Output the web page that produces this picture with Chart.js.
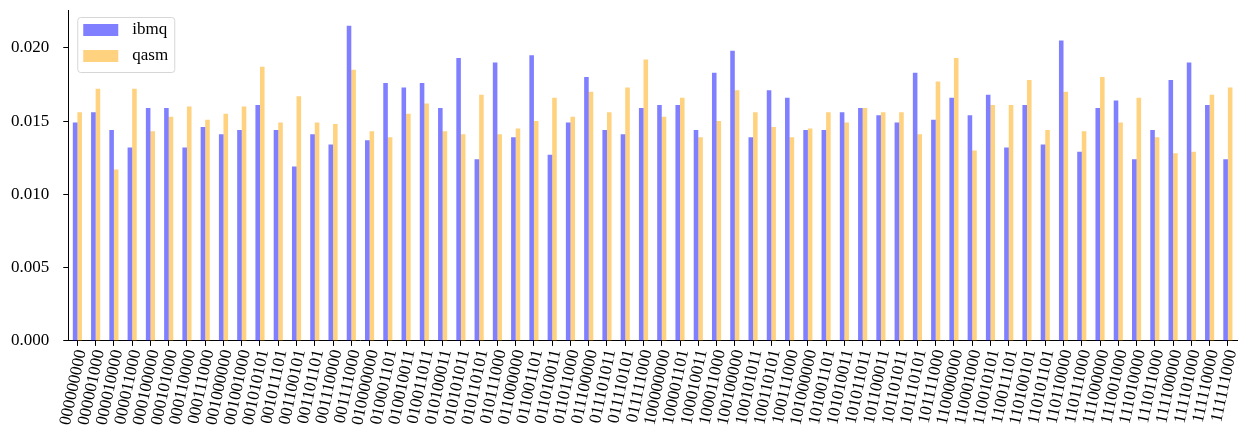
<!DOCTYPE html>
<html>
<head>
<meta charset="utf-8">
<script src="https://cdn.jsdelivr.net/npm/chart.js@4"></script>
<style>
  html, body { margin: 0; padding: 0; background: #fff; }
  #wrap { width: 1245px; height: 432px; }
</style>
</head>
<body>
<div id="wrap"><canvas id="count_chart" width="1245" height="432"></canvas></div>
<script>
// measured states (x axis)
const states = [
  "000000000", "000001000", "000010000", "000011000", "000100000", "000101000", "000110000", "000111000",
  "001000000", "001001000", "001010101", "001011101", "001100101", "001101101", "001110000", "001111000",
  "010000000", "010001101", "010010011", "010011011", "010100011", "010101011", "010110101", "010111000",
  "011000000", "011001101", "011010011", "011011000", "011100000", "011101011", "011110101", "011111000",
  "100000000", "100001101", "100010011", "100011000", "100100000", "100101011", "100110101", "100111000",
  "101000000", "101001101", "101010011", "101011011", "101100011", "101101011", "101110101", "101111000",
  "110000000", "110001000", "110010101", "110011101", "110100101", "110101101", "110110000", "110111000",
  "111000000", "111001000", "111010000", "111011000", "111100000", "111101000", "111110000", "111111000",
];

const ibmq = [
  0.0149, 0.0156, 0.0144, 0.0132, 0.0159, 0.0159, 0.0132, 0.0146,
  0.0141, 0.0144, 0.0161, 0.0144, 0.0119, 0.0141, 0.0134, 0.0215,
  0.0137, 0.0176, 0.0173, 0.0176, 0.0159, 0.0193, 0.0124, 0.0190,
  0.0139, 0.0195, 0.0127, 0.0149, 0.0180, 0.0144, 0.0141, 0.0159,
  0.0161, 0.0161, 0.0144, 0.0183, 0.0198, 0.0139, 0.0171, 0.0166,
  0.0144, 0.0144, 0.0156, 0.0159, 0.0154, 0.0149, 0.0183, 0.0151,
  0.0166, 0.0154, 0.0168, 0.0132, 0.0161, 0.0134, 0.0205, 0.0129,
  0.0159, 0.0164, 0.0124, 0.0144, 0.0178, 0.0190, 0.0161, 0.0124,
];

const qasm = [
  0.0156, 0.0172, 0.0117, 0.0172, 0.0143, 0.0153, 0.0160, 0.0151,
  0.0155, 0.0160, 0.0187, 0.0149, 0.0167, 0.0149, 0.0148, 0.0185,
  0.0143, 0.0139, 0.0155, 0.0162, 0.0143, 0.0141, 0.0168, 0.0141,
  0.0145, 0.0150, 0.0166, 0.0153, 0.0170, 0.0156, 0.0173, 0.0192,
  0.0153, 0.0166, 0.0139, 0.0150, 0.0171, 0.0156, 0.0146, 0.0139,
  0.0145, 0.0156, 0.0149, 0.0159, 0.0156, 0.0156, 0.0141, 0.0177,
  0.0193, 0.0130, 0.0161, 0.0161, 0.0178, 0.0144, 0.0170, 0.0143,
  0.0180, 0.0149, 0.0166, 0.0139, 0.0128, 0.0129, 0.0168, 0.0173,
];

const yTicks = [0, 0.005, 0.01, 0.015, 0.02];
const yTickLabels = ["0.000", "0.005", "0.010", "0.015", "0.020"];
const yMax = 0.02258;

const serif = "'Liberation Serif', 'Times New Roman', serif";

// legend in the upper left, drawn with a frame like matplotlib
const legendBox = {
  id: "legendBox",
  afterDraw(chart) {
    const { ctx, chartArea } = chart;
    const x = chartArea.left + 9;
    const y = chartArea.top + 7;
    ctx.save();
    ctx.beginPath();
    ctx.roundRect(x + 0.5, y + 0.5, 97, 55, 3);
    ctx.fillStyle = "rgba(255,255,255,0.8)";
    ctx.fill();
    ctx.strokeStyle = "#d6d6d6";
    ctx.lineWidth = 1;
    ctx.stroke();
    chart.data.datasets.forEach(function (ds, i) {
      const rowY = y + 13 + i * 26;
      ctx.fillStyle = ds.backgroundColor;
      ctx.fillRect(x + 6, rowY - 6, 35, 12);
      ctx.fillStyle = "#000";
      ctx.font = "17px " + serif;
      ctx.textBaseline = "middle";
      ctx.fillText(ds.label, x + 55, rowY);
    });
    ctx.restore();
  },
};

const countChart = new Chart(document.getElementById("count_chart"), {
  type: "bar",
  data: {
    labels: states,
    datasets: [
      {
        label: "ibmq",
        data: ibmq,
        backgroundColor: "rgba(0,0,255,0.5)",
        borderWidth: 0,
        categoryPercentage: 0.5,
        barPercentage: 1.0,
      },
      {
        label: "qasm",
        data: qasm,
        backgroundColor: "rgba(255,165,0,0.5)",
        borderWidth: 0,
        categoryPercentage: 0.5,
        barPercentage: 1.0,
      },
    ],
  },
  options: {
    responsive: false,
    animation: false,
    layout: {
      padding: { left: -3, right: 8, top: 10, bottom: 3 },
    },
    plugins: {
      legend: { display: false },
      tooltip: { enabled: false },
    },
    scales: {
      x: {
        offset: true,
        grid: {
          offset: false,
          drawOnChartArea: false,
          drawTicks: true,
          tickLength: 5,
          color: "#000",
        },
        border: { color: "#000", width: 1 },
        // don't reserve room for the last rotated label
        afterFit: function (axis) {
          axis.paddingRight = 0;
        },
        ticks: {
          autoSkip: false,
          minRotation: 78,
          maxRotation: 78,
          labelOffset: 4,
          padding: 2,
          color: "#000",
          font: { family: serif, size: 17 },
        },
      },
      y: {
        min: 0,
        max: yMax,
        grid: {
          drawOnChartArea: false,
          drawTicks: true,
          tickLength: 5,
          color: "#000",
        },
        border: { color: "#000", width: 1 },
        afterBuildTicks: function (axis) {
          axis.ticks = yTicks.map(function (v) {
            return { value: v };
          });
        },
        afterFit: function (axis) {
          axis.paddingTop = 0;
          axis.paddingBottom = 0;
        },
        ticks: {
          padding: 14,
          color: "#000",
          font: { family: serif, size: 17 },
          callback: function (value) {
            const i = yTicks.indexOf(value);
            return i >= 0 ? yTickLabels[i] : "";
          },
        },
      },
    },
  },
  plugins: [legendBox],
});
</script>
</body>
</html>
